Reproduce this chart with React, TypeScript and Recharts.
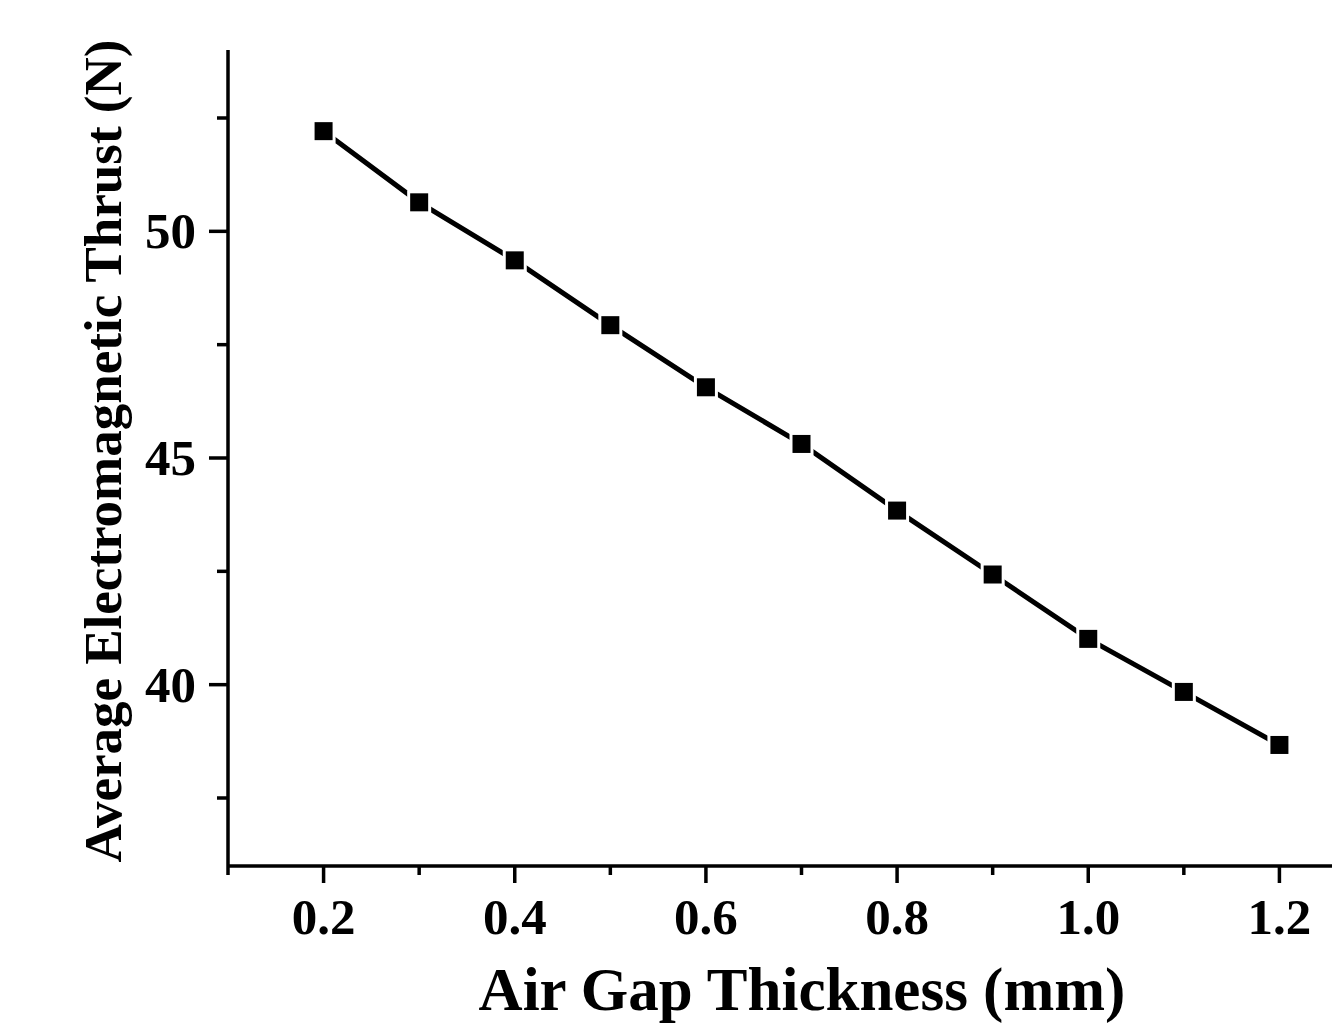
import { Line, LineChart, XAxis, YAxis } from "recharts";

const gaps = [0.2, 0.3, 0.4, 0.5, 0.6, 0.7, 0.8, 0.9, 1.0, 1.1, 1.2];
const thrust = [52.21, 50.64, 49.36, 47.93, 46.56, 45.31, 43.84, 42.43, 41.01, 39.84, 38.67];

const xTicks = [0.1, 0.2, 0.3, 0.4, 0.5, 0.6, 0.7, 0.8, 0.9, 1.0, 1.1, 1.2, 1.3];
const yTicks = [37.5, 40, 42.5, 45, 47.5, 50, 52.5];

const data = gaps.map((g, i) => ({ gap: g, thrust: thrust[i] }));

const FONT = "'Liberation Serif', 'Times New Roman', serif";

function XTick({ x, y, payload }: { x: number; y: number; payload: { value: number } }) {
  const major = Math.round(payload.value * 10) % 2 === 0;
  return (
    <g>
      <line x1={x} y1={y} x2={x} y2={y + (major ? 17 : 9)} stroke="#000" strokeWidth={3.5} />
      {major && (
        <text
          x={x}
          y={y + 68}
          textAnchor="middle"
          fontFamily={FONT}
          fontWeight="bold"
          fontSize={51}
          fill="#000"
        >
          {payload.value.toFixed(1)}
        </text>
      )}
    </g>
  );
}

function YTick({ x, y, payload }: { x: number; y: number; payload: { value: number } }) {
  const major = payload.value % 5 === 0;
  return (
    <g>
      <line x1={x - (major ? 19 : 11)} y1={y} x2={x} y2={y} stroke="#000" strokeWidth={3.5} />
      {major && (
        <text
          x={x - 32}
          y={y + 17}
          textAnchor="end"
          fontFamily={FONT}
          fontWeight="bold"
          fontSize={51}
          fill="#000"
        >
          {payload.value}
        </text>
      )}
    </g>
  );
}

function SquareDot({ cx, cy, index }: { cx?: number; cy?: number; index?: number }) {
  if (cx == null || cy == null) return null;
  return (
    <g key={index}>
      <rect x={cx - 12} y={cy - 12} width={24} height={24} fill="#fff" />
      <rect x={cx - 9} y={cy - 9} width={18} height={18} fill="#000" />
    </g>
  );
}

export default function App() {
  return (
    <div
      style={{
        position: "fixed",
        left: 0,
        top: 0,
        width: 1332,
        height: 1025,
        overflow: "hidden",
        background: "#fff",
      }}
    >
      <LineChart
        width={1400}
        height={1025}
        data={data}
        margin={{ top: 50, right: 25, left: 168, bottom: 129 }}
      >
        <XAxis
          dataKey="gap"
          type="number"
          domain={[0.1, 1.3]}
          ticks={xTicks}
          interval={0}
          tickSize={0}
          tickMargin={0}
          tickLine={false}
          axisLine={{ stroke: "#000", strokeWidth: 3.5 }}
          tick={XTick}
          height={30}
          label={{
            content: () => (
              <text
                x={802}
                y={1010}
                textAnchor="middle"
                fontFamily={FONT}
                fontWeight="bold"
                fontSize={61}
                fill="#000"
              >
                Air Gap Thickness (mm)
              </text>
            ),
          }}
        />
        <YAxis
          type="number"
          domain={[36, 54]}
          ticks={yTicks}
          interval={0}
          tickSize={0}
          tickMargin={0}
          tickLine={false}
          axisLine={{ stroke: "#000", strokeWidth: 3.5 }}
          tick={YTick}
          width={60}
          label={{
            content: () => (
              <text
                x={121}
                y={451}
                transform="rotate(-90 121 451)"
                textAnchor="middle"
                fontFamily={FONT}
                fontWeight="bold"
                fontSize={53}
                fill="#000"
              >
                Average Electromagnetic Thrust (N)
              </text>
            ),
          }}
        />
        <Line
          type="linear"
          dataKey="thrust"
          stroke="#000"
          strokeWidth={5}
          dot={SquareDot}
          activeDot={false}
          isAnimationActive={false}
        />
      </LineChart>
    </div>
  );
}
